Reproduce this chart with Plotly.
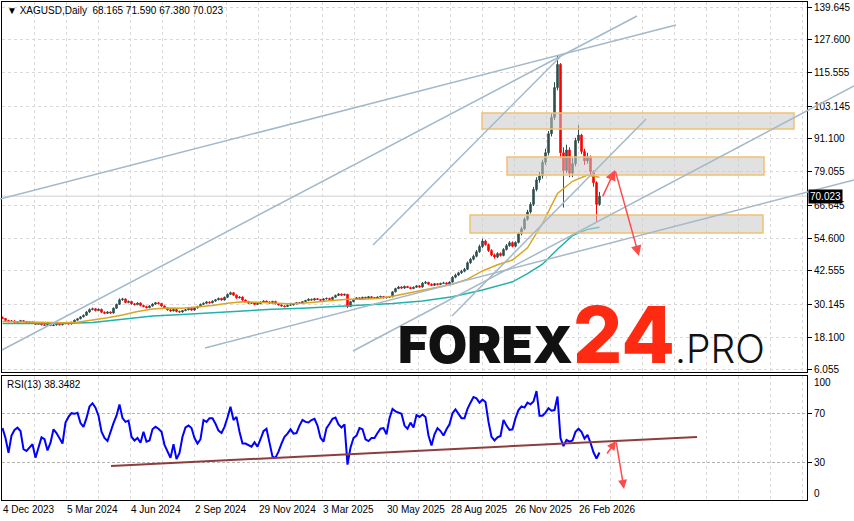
import plotly.graph_objects as go

# XAGUSD daily (MT4 style). One candle per 3 sessions, x = session index.
first_open = 25.4
closes = [
    25.0, 24.3, 23.9, 24.1, 23.6, 23.8, 24.2, 23.9, 23.5, 23.7,
    23.2, 22.9, 23.1, 22.7, 22.5, 22.8, 22.4, 22.6, 22.9, 22.7,
    23.1, 23.4, 23.0, 23.6, 24.4, 24.9, 25.6, 26.2, 27.4, 28.3,
    28.6, 27.9, 28.4, 27.3, 26.9, 27.4, 27.0, 28.8, 30.2, 31.9,
    32.2, 30.9, 31.3, 30.4, 30.1, 30.7, 29.8, 29.4, 29.0, 29.6,
    30.3, 30.8, 30.5, 29.6, 28.9, 28.2, 27.8, 28.3, 27.6, 27.4,
    27.9, 28.2, 28.7, 28.1, 28.9, 29.4, 30.2, 30.6, 31.1, 30.8,
    31.4, 31.9, 32.4, 31.8, 32.8, 33.9, 34.5, 33.6, 32.6, 32.9,
    31.8, 31.2, 30.6, 30.8, 30.2, 30.5, 31.0, 31.4, 31.1, 30.7,
    31.3, 30.4, 30.0, 29.6, 29.4, 29.9, 30.0, 30.4, 30.8, 30.6,
    31.2, 31.6, 32.1, 31.8, 32.3, 32.0, 31.7, 32.2, 32.4, 32.0,
    32.8, 33.5, 34.0, 33.6, 33.9, 29.4, 31.2, 32.0, 32.6, 32.3,
    32.8, 32.5, 33.0, 32.7, 32.4, 32.9, 33.1, 32.6, 32.8, 33.0,
    34.8, 36.0, 36.6, 36.2, 36.8, 36.4, 36.0, 36.5, 37.0, 36.6,
    38.0, 38.3, 37.6, 37.2, 37.8, 37.5, 37.9, 38.1, 37.6, 38.4,
    40.2, 41.0, 41.8, 42.4, 43.1, 45.5, 46.8, 47.9, 49.6, 51.5,
    53.5, 52.2, 50.0, 48.4, 47.6, 48.9, 48.2, 50.4, 51.8, 52.9,
    51.6, 53.0, 56.2, 58.0, 61.5, 64.2, 67.0, 72.5, 76.0, 77.5,
    82.5, 86.0, 93.0, 99.0, 110.0, 118.5, 86.0, 79.5, 87.0, 78.5,
    82.0, 90.5, 92.5, 86.5, 83.0, 84.5, 79.0, 75.0, 67.0, 70.023,
]
highs = [
    25.7, 25.2, 24.5, 24.4, 24.3, 24.0, 24.5, 24.4, 24.1, 23.9,
    23.9, 23.4, 23.3, 23.3, 22.9, 23.0, 23.0, 22.8, 23.1, 23.1,
    23.3, 23.6, 23.6, 23.8, 24.6, 25.2, 25.9, 26.5, 27.7, 28.7,
    29.0, 28.8, 28.7, 28.6, 27.6, 27.7, 27.6, 29.1, 30.5, 32.4,
    32.6, 32.4, 31.6, 31.5, 30.7, 31.0, 30.9, 30.1, 29.7, 29.9,
    30.6, 31.1, 31.0, 30.7, 29.8, 29.1, 28.5, 28.6, 28.5, 27.9,
    28.1, 28.5, 29.0, 28.9, 29.1, 29.7, 30.5, 30.9, 31.4, 31.3,
    31.7, 32.2, 32.7, 32.6, 33.1, 34.2, 34.9, 34.7, 33.8, 33.2,
    33.1, 32.0, 31.5, 31.0, 31.0, 30.8, 31.3, 31.6, 31.6, 31.3,
    31.5, 31.5, 30.6, 30.2, 29.8, 30.1, 30.3, 30.6, 31.0, 31.0,
    31.4, 31.9, 32.4, 32.3, 32.6, 32.5, 32.2, 32.5, 32.7, 32.6,
    33.0, 33.8, 34.3, 34.2, 34.1, 34.0, 31.5, 32.3, 32.9, 32.8,
    33.0, 33.0, 33.3, 33.2, 32.9, 33.1, 33.4, 33.3, 33.0, 33.3,
    35.1, 36.3, 37.0, 36.9, 37.1, 37.0, 36.7, 36.8, 37.3, 37.2,
    38.4, 38.8, 38.5, 37.9, 38.1, 38.0, 38.2, 38.5, 38.3, 38.7,
    40.6, 41.5, 42.2, 42.9, 43.6, 46.0, 47.3, 48.5, 50.2, 52.2,
    54.4, 54.0, 52.6, 50.5, 48.9, 49.4, 49.3, 50.9, 52.4, 53.5,
    53.4, 53.4, 56.8, 58.8, 62.2, 65.0, 67.8, 73.4, 77.0, 79.0,
    83.5, 87.5, 94.0, 100.5, 112.0, 121.6, 119.0, 88.0, 89.0, 88.0,
    84.0, 91.5, 96.2, 93.0, 87.5, 86.0, 85.0, 79.5, 75.5, 71.59,
]
lows = [
    24.8, 24.0, 23.6, 23.7, 23.4, 23.3, 23.6, 23.6, 23.2, 23.3,
    23.0, 22.7, 22.7, 22.5, 22.3, 22.3, 22.2, 22.2, 22.4, 22.5,
    22.5, 22.9, 22.8, 22.8, 23.4, 24.2, 24.7, 25.4, 26.0, 27.1,
    28.0, 27.6, 27.7, 27.0, 26.6, 26.7, 26.8, 26.8, 28.5, 30.0,
    31.5, 30.6, 30.6, 30.1, 29.8, 29.9, 29.5, 29.1, 28.7, 28.8,
    29.4, 30.0, 30.2, 29.3, 28.6, 27.9, 27.5, 27.6, 27.3, 27.1,
    27.2, 27.7, 28.0, 27.9, 27.9, 28.7, 29.2, 30.0, 30.4, 30.5,
    30.6, 31.2, 31.7, 31.6, 31.6, 32.6, 33.7, 33.4, 32.3, 32.4,
    31.5, 31.0, 30.4, 30.4, 29.9, 30.0, 30.3, 30.8, 30.9, 30.4,
    30.5, 30.2, 29.8, 29.4, 29.1, 29.2, 29.7, 29.8, 30.2, 30.4,
    30.4, 31.0, 31.4, 31.6, 31.6, 31.8, 31.5, 31.5, 32.0, 31.8,
    31.8, 32.6, 33.3, 33.4, 33.4, 28.8, 29.2, 31.0, 31.8, 32.1,
    32.1, 32.3, 32.3, 32.5, 32.2, 32.2, 32.7, 32.4, 32.4, 32.6,
    32.8, 34.6, 35.8, 36.0, 35.9, 36.2, 35.8, 35.8, 36.3, 36.4,
    36.4, 37.7, 37.3, 36.9, 37.0, 37.2, 37.3, 37.7, 37.3, 37.4,
    38.2, 39.8, 40.6, 41.4, 42.0, 42.8, 45.1, 46.4, 47.5, 49.2,
    51.0, 51.8, 49.5, 47.9, 47.0, 47.2, 47.8, 47.9, 50.0, 51.4,
    51.2, 51.2, 52.6, 55.6, 57.5, 61.0, 63.6, 66.4, 71.8, 75.0,
    76.5, 81.5, 85.0, 92.0, 98.0, 109.0, 84.0, 65.8, 78.5, 77.0,
    77.0, 81.0, 89.5, 85.5, 81.5, 82.0, 78.0, 73.5, 60.5, 66.5,
]
rsi_values = [
    58, 50, 38, 52, 56.5, 58.3, 55.6, 41, 39.5, 42.5,
    45, 34, 43, 50.5, 49, 40, 46.2, 57, 54, 49.5,
    45.5, 62.4, 67, 70, 69.5, 70.4, 62, 59, 66, 75.5,
    78, 74.5, 68, 55, 50, 47.6, 55.6, 62, 68, 77,
    66, 63, 64, 51, 48, 50, 46.2, 55, 47, 48,
    57, 59, 57.5, 55, 44.5, 39, 34, 45, 33, 38,
    51, 58.5, 60, 58, 50, 45.5, 49, 64.5, 63, 66,
    66, 61.5, 56, 54, 59, 66.5, 75.2, 64.5, 67, 55,
    45.5, 45.5, 44, 43, 46.5, 43, 49, 55.5, 57.5, 45,
    35, 34, 39, 45.5, 51, 53.5, 57, 53.5, 54, 60,
    64.5, 63, 62.5, 64.5, 65.5, 60, 50.2, 47, 58, 61.5,
    65.5, 66.5, 61, 58.5, 61, 28.5, 42.2, 50, 52, 58,
    57, 49, 47.5, 50, 50, 54, 57.5, 58, 53, 66,
    73.5, 71.5, 70.5, 69.5, 60, 57.5, 62.4, 58.5, 68.5, 67,
    69, 67, 52, 44, 53, 58, 55.6, 52, 57, 61,
    70, 73, 69.5, 66, 66, 73.5, 78.5, 83, 82, 78.5,
    81, 79, 63, 51, 48, 50.5, 51.6, 64.5, 60, 56.5,
    57, 66, 72.5, 75.5, 74.5, 78.5, 77.2, 79.5, 87.9, 68,
    68, 70.5, 74, 72, 72.5, 83.5, 50, 43.5, 48.5, 47,
    48, 55, 57.5, 55, 49.5, 52.5, 46.2, 38.5, 33.5, 38.3482,
]

ma_fast_bars = list(range(0, 586, 15)) + [597]
ma_fast = [
    23.9, 23.8, 23.7, 23.5, 23.4, 23.6, 24.4, 25.3, 26.3, 27.6,
    28.5, 28.9, 28.8, 29.2, 29.8, 30.6, 31.2, 31.0, 30.7, 30.4,
    30.6, 31.0, 31.6, 32.1, 32.1, 32.4, 33.2, 34.3, 35.4, 36.5,
    37.6, 39.5, 42.5, 44.8, 46.5, 51.0, 60.0, 71.0, 75.5, 77.8, 77.0,
]
ma_slow_bars = [0, 30, 60, 90, 120, 150, 180, 210, 240, 270, 300, 330,
                360, 390, 420, 450, 480, 510, 525, 540, 555, 570, 585, 597]
ma_slow = [23.2, 23.2, 23.2, 23.5, 24.8, 25.9, 26.5, 27.1, 27.9, 28.4, 28.8, 29.3,
           29.9, 30.5, 31.4, 33.0, 35.5, 38.5, 41.5, 45.0, 50.5, 55.5, 57.8, 58.6]

price_ticks = [6.055, 18.100, 30.145, 42.555, 54.600, 66.645, 79.055,
               91.100, 103.145, 115.555, 127.600, 139.645]
date_labels = ["4 Dec 2023", "5 Mar 2024", "4 Jun 2024", "2 Sep 2024", "29 Nov 2024",
               "3 Mar 2025", "30 May 2025", "28 Aug 2025", "26 Nov 2025", "26 Feb 2026"]

# drawn objects (bar index, price)
trend_lines = [
    (-2.5, 68.99, 673.5, 133.02),
    (-0.5, 13.42, 634.5, 136.33),
    (370.5, 52.06, 557.5, 121.24),
    (449.5, 25.93, 643.5, 98.43),
    (202.5, 14.15, 851.5, 75.98),
    (350.5, 13.05, 851.5, 110.57),
]
# zones: bar from, bar to, price low, price high
zones = [(479.5, 791.5, 94.75, 100.63), (504.5, 761.5, 77.82, 84.45), (467.5, 760.5, 56.47, 63.10)]
price_arrows = [(599.5, 69.4, 612.5, 79.7), (612.5, 79.7, 636.5, 48.0)]
rsi_line = (108.5, 27.4, 694.5, 50.8)
rsi_arrows = [(603.5, 36.3, 613.5, 47.6), (613.5, 47.6, 621.5, 8.9)]

bars = list(range(0, 3 * len(closes), 3))
opens = [first_open] + closes[:-1]

x_range = [-0.5, 804.5]
price_range = [5.31, 141.485]
main_dom = [128 / 498, 1.0]
rsi_dom = [0.0, 124 / 498]


def to_paper(bar, price):
    px = (bar - x_range[0]) / (x_range[1] - x_range[0])
    py = main_dom[0] + (price - price_range[0]) / (price_range[1] - price_range[0]) * (main_dom[1] - main_dom[0])
    return px, py


fig = go.Figure()
fig.add_trace(go.Candlestick(
    x=bars, open=opens, high=highs, low=lows, close=closes,
    increasing=dict(line=dict(color="#2f4f4f", width=1), fillcolor="#2f4f4f"),
    decreasing=dict(line=dict(color="#ff0000", width=1), fillcolor="#ff0000"),
    whiskerwidth=0, xaxis="x", yaxis="y", hoverinfo="skip",
))
fig.add_trace(go.Scatter(x=ma_slow_bars, y=ma_slow, mode="lines",
                         line=dict(color="#20b2aa", width=1.5), xaxis="x", yaxis="y"))
fig.add_trace(go.Scatter(x=ma_fast_bars, y=ma_fast, mode="lines",
                         line=dict(color="#daa520", width=1.5), xaxis="x", yaxis="y"))
fig.add_trace(go.Scatter(x=bars, y=rsi_values, mode="lines",
                         line=dict(color="#0000ff", width=2), xaxis="x2", yaxis="y2"))

shapes = []
for x0, x1, y0, y1 in zones:
    shapes.append(dict(type="rect", xref="x", yref="y", x0=x0, x1=x1, y0=y0, y1=y1,
                       fillcolor="rgba(200,200,200,0.55)", line=dict(color="#f2c172", width=1.5),
                       layer="above"))
for x0, y0, x1, y1 in trend_lines:
    a0, b0 = to_paper(x0, y0)
    a1, b1 = to_paper(x1, y1)
    shapes.append(dict(type="line", xref="paper", yref="paper", x0=a0, y0=b0, x1=a1, y1=b1,
                       line=dict(color="#a3b9c9", width=1.5), layer="above"))
shapes.append(dict(type="line", xref="x domain", yref="y", x0=0, x1=1, y0=closes[-1], y1=closes[-1],
                   line=dict(color="#cfcfcf", width=1), layer="below"))
shapes.append(dict(type="line", xref="x2", yref="y2", x0=rsi_line[0], y0=rsi_line[1],
                   x1=rsi_line[2], y1=rsi_line[3], line=dict(color="#8e3d3d", width=2)))

annotations = []
for x0, y0, x1, y1 in price_arrows:
    annotations.append(dict(x=x1, y=y1, ax=x0, ay=y0, xref="x", yref="y", axref="x", ayref="y",
                            text="", showarrow=True, arrowhead=2, arrowsize=1.4, arrowwidth=1.5,
                            arrowcolor="#ff4a4a"))
for x0, y0, x1, y1 in rsi_arrows:
    annotations.append(dict(x=x1, y=y1, ax=x0, ay=y0, xref="x2", yref="y2", axref="x2", ayref="y2",
                            text="", showarrow=True, arrowhead=2, arrowsize=1.2, arrowwidth=1.5,
                            arrowcolor="#ff4a4a"))

base_font = dict(family="Liberation Sans, Arial, sans-serif", size=10, color="black")
annotations += [
    dict(xref="paper", yref="paper", x=0.004, y=0.998, xanchor="left", yanchor="top", showarrow=False,
         text="▼ XAGUSD,Daily  68.165 71.590 67.380 70.023", font=base_font),
    dict(xref="paper", yref="paper", x=0.004, y=rsi_dom[1] - 0.002, xanchor="left", yanchor="top",
         showarrow=False, text="RSI(13) 38.3482", font=base_font),
    dict(xref="paper", yref="y2", x=1.006, y=94.5, xanchor="left", yanchor="middle", showarrow=False,
         text="100", font=base_font),
    dict(xref="paper", yref="y2", x=1.006, y=5, xanchor="left", yanchor="middle", showarrow=False,
         text="0", font=base_font),
    dict(xref="paper", yref="y", x=1.001, y=closes[-1], xanchor="left", yanchor="middle", showarrow=False,
         text=f"{closes[-1]:.3f}", bgcolor="black", borderpad=1,
         font=dict(family="Liberation Sans, Arial, sans-serif", size=10, color="white")),
    dict(xref="paper", yref="paper", x=(396 - 2) / 805, y=(500 - 384) / 498, xanchor="left",
         yanchor="bottom", showarrow=False,
         text="<span style='font-weight:900'>FOREX</span>"
              "<span style='font-size:78px;font-weight:800;color:#ff2a12'>24</span>"
              "<span style='font-size:39px;font-weight:300'>.PRO</span>",
         font=dict(family="Inter, Lato, sans-serif", size=51, color="#111111")),
]

grid = dict(showgrid=True, gridcolor="#d9d9d9", griddash="3px,3px", gridwidth=1, automargin=False,
            showline=True, linecolor="black", linewidth=1, mirror=True, zeroline=False)
grid_vals = list(range(0, 805, 32))
grid_text = [date_labels[i // 2] if i % 2 == 0 and i // 2 < len(date_labels) else "" for i in range(len(grid_vals))]

fig.update_layout(
    width=854, height=521,
    margin=dict(l=2, r=47, t=2, b=21),
    paper_bgcolor="white", plot_bgcolor="white",
    showlegend=False,
    font=base_font,
    xaxis=dict(domain=[0, 1], range=x_range, anchor="y", tickvals=grid_vals, showticklabels=False,
               ticks="", rangeslider=dict(visible=False), **grid),
    xaxis2=dict(domain=[0, 1], range=x_range, anchor="y2", tickvals=grid_vals, ticktext=grid_text,
                ticks="", tickangle=0, ticklabelposition="outside right", tickfont=base_font, **grid),
    yaxis=dict(domain=main_dom, range=price_range, side="right", tickvals=price_ticks,
               tickformat=".3f", ticks="outside", ticklen=4, tickcolor="black", tickfont=base_font,
               **grid),
    yaxis2=dict(domain=rsi_dom, range=[0, 100], side="right", tickvals=[30, 70],
                ticks="outside", ticklen=4, tickcolor="black", tickfont=base_font, automargin=False,
                showgrid=True, gridcolor="#b4b4b4", griddash="3px,2px",
                showline=True, linecolor="black", linewidth=1, mirror=True, zeroline=False),
    shapes=shapes,
    annotations=annotations,
)

# the page's default body margin would push the 854x521 figure off by 8 px
fig.write_html("out.html", config={"displayModeBar": False},
               post_script="document.body.style.margin = '0';")
